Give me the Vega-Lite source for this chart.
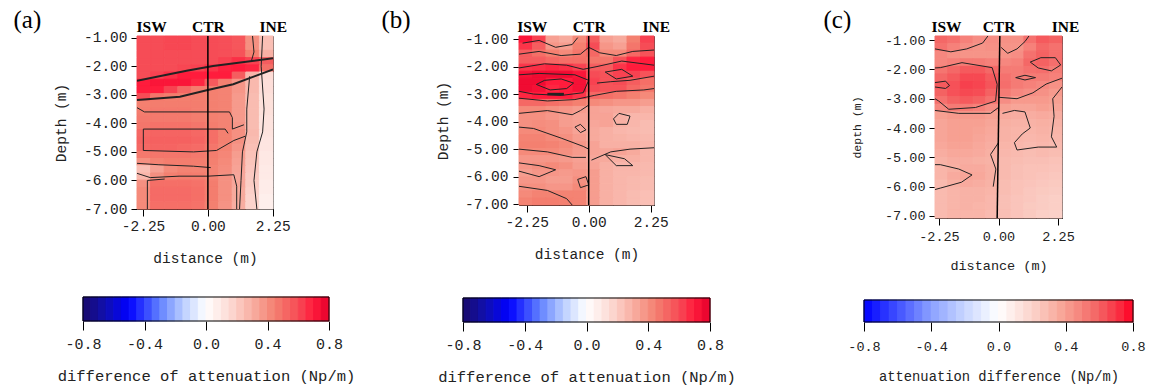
{
"$schema":"https://vega.github.io/schema/vega-lite/v6.json",
"background":"white",
"padding":{"left":12,"top":7,"right":5,"bottom":5},
"datasets":{
"cb":[{"a":-0.8,"b":-0.75,"m":-0.775},{"a":-0.75,"b":-0.7,"m":-0.725},{"a":-0.7,"b":-0.65,"m":-0.675},{"a":-0.65,"b":-0.6,"m":-0.625},{"a":-0.6,"b":-0.55,"m":-0.575},{"a":-0.55,"b":-0.5,"m":-0.525},{"a":-0.5,"b":-0.45,"m":-0.475},{"a":-0.45,"b":-0.4,"m":-0.425},{"a":-0.4,"b":-0.35,"m":-0.375},{"a":-0.35,"b":-0.3,"m":-0.325},{"a":-0.3,"b":-0.25,"m":-0.275},{"a":-0.25,"b":-0.2,"m":-0.225},{"a":-0.2,"b":-0.15,"m":-0.175},{"a":-0.15,"b":-0.1,"m":-0.125},{"a":-0.1,"b":-0.05,"m":-0.075},{"a":-0.05,"b":0,"m":-0.025},{"a":0,"b":0.05,"m":0.025},{"a":0.05,"b":0.1,"m":0.075},{"a":0.1,"b":0.15,"m":0.125},{"a":0.15,"b":0.2,"m":0.175},{"a":0.2,"b":0.25,"m":0.225},{"a":0.25,"b":0.3,"m":0.275},{"a":0.3,"b":0.35,"m":0.325},{"a":0.35,"b":0.4,"m":0.375},{"a":0.4,"b":0.45,"m":0.425},{"a":0.45,"b":0.5,"m":0.475},{"a":0.5,"b":0.55,"m":0.525},{"a":0.55,"b":0.6,"m":0.575},{"a":0.6,"b":0.65,"m":0.625},{"a":0.65,"b":0.7,"m":0.675},{"a":0.7,"b":0.75,"m":0.725},{"a":0.75,"b":0.8,"m":0.775}],
"ka":[
{"c":1,"k":0,"x":-2.46,"y":-2.51,"w":2},{"c":1,"k":1,"x":-0.74,"y":-2.16,"w":2},{"c":1,"k":2,"x":0.18,"y":-1.99,"w":2},{"c":1,"k":3,"x":2.26,"y":-1.72,"w":2},
{"c":2,"k":0,"x":-2.46,"y":-3.18,"w":2},{"c":2,"k":1,"x":-0.97,"y":-3.07,"w":2},{"c":2,"k":2,"x":-0.04,"y":-2.84,"w":2},{"c":2,"k":3,"x":0.88,"y":-2.63,"w":2},{"c":2,"k":4,"x":2.26,"y":-2.11,"w":2},
{"c":3,"k":0,"x":-2.46,"y":-3.45,"w":1},{"c":3,"k":1,"x":-2.2,"y":-3.6,"w":1},{"c":3,"k":2,"x":0.75,"y":-3.6,"w":1},{"c":3,"k":3,"x":0.85,"y":-3.8,"w":1},{"c":3,"k":4,"x":0.85,"y":-4.2,"w":1},{"c":3,"k":5,"x":1.25,"y":-4.05,"w":1},
{"c":4,"k":0,"x":-2.24,"y":-4.95,"w":1},{"c":4,"k":1,"x":-2.24,"y":-4.2,"w":1},{"c":4,"k":2,"x":0.6,"y":-4.2,"w":1},{"c":4,"k":3,"x":0.7,"y":-4.35,"w":1},
{"c":5,"k":0,"x":-2.24,"y":-4.95,"w":1},{"c":5,"k":1,"x":-0.5,"y":-5.0,"w":1},{"c":5,"k":2,"x":0.3,"y":-4.95,"w":1},{"c":5,"k":3,"x":0.9,"y":-4.6,"w":1},{"c":5,"k":4,"x":1.3,"y":-4.45,"w":1},
{"c":6,"k":0,"x":-2.46,"y":-5.4,"w":1},{"c":6,"k":1,"x":-1.7,"y":-5.45,"w":1},{"c":6,"k":2,"x":-0.5,"y":-5.5,"w":1},{"c":6,"k":3,"x":0.1,"y":-5.55,"w":1},
{"c":7,"k":0,"x":-2.46,"y":-5.75,"w":1},{"c":7,"k":1,"x":-2.0,"y":-5.9,"w":1},{"c":7,"k":2,"x":-1.0,"y":-5.85,"w":1},{"c":7,"k":3,"x":0,"y":-5.85,"w":1},{"c":7,"k":4,"x":0.9,"y":-5.8,"w":1},{"c":7,"k":5,"x":1.0,"y":-6.2,"w":1},{"c":7,"k":6,"x":1.0,"y":-7.0,"w":1},
{"c":8,"k":0,"x":1.45,"y":-2.35,"w":1},{"c":8,"k":1,"x":1.35,"y":-3.5,"w":1},{"c":8,"k":2,"x":1.35,"y":-4.3,"w":1},{"c":8,"k":3,"x":1.2,"y":-5.0,"w":1},{"c":8,"k":4,"x":1.15,"y":-6.0,"w":1},{"c":8,"k":5,"x":1.1,"y":-7.0,"w":1},
{"c":9,"k":0,"x":1.9,"y":-0.94,"w":1},{"c":9,"k":1,"x":1.85,"y":-2.0,"w":1},{"c":9,"k":2,"x":1.95,"y":-3.5,"w":1},{"c":9,"k":3,"x":1.9,"y":-4.3,"w":1},{"c":9,"k":4,"x":1.7,"y":-5.0,"w":1},{"c":9,"k":5,"x":1.6,"y":-6.0,"w":1},{"c":9,"k":6,"x":1.7,"y":-7.0,"w":1},
{"c":10,"k":0,"x":1.55,"y":-0.94,"w":1},{"c":10,"k":1,"x":1.6,"y":-1.5,"w":1},{"c":10,"k":2,"x":1.5,"y":-1.85,"w":1},
{"c":11,"k":0,"x":-2.1,"y":-7.0,"w":1},{"c":11,"k":1,"x":-2.1,"y":-6.0,"w":1},{"c":11,"k":2,"x":-1.5,"y":-5.95,"w":1}
],
"kb":[
{"c":1,"k":0,"x":-2.4,"y":-1.15,"w":1},{"c":1,"k":1,"x":-1.8,"y":-1.05,"w":1},{"c":1,"k":2,"x":-1.2,"y":-1.3,"w":1},{"c":1,"k":3,"x":-0.6,"y":-1.2,"w":1},{"c":1,"k":4,"x":-0.4,"y":-0.95,"w":1},
{"c":2,"k":0,"x":-2.53,"y":-1.55,"w":1},{"c":2,"k":1,"x":-1.8,"y":-1.45,"w":1},{"c":2,"k":2,"x":-1.0,"y":-1.6,"w":1},{"c":2,"k":3,"x":-0.3,"y":-1.55,"w":1},{"c":2,"k":4,"x":0,"y":-1.3,"w":1},{"c":2,"k":5,"x":0.4,"y":-1.5,"w":1},{"c":2,"k":6,"x":1.0,"y":-1.6,"w":1},{"c":2,"k":7,"x":1.6,"y":-1.45,"w":1},{"c":2,"k":8,"x":2.37,"y":-1.4,"w":1},
{"c":3,"k":0,"x":-2.53,"y":-2.05,"w":1},{"c":3,"k":1,"x":-1.6,"y":-1.9,"w":1},{"c":3,"k":2,"x":-0.8,"y":-1.95,"w":1},{"c":3,"k":3,"x":-0.2,"y":-2.1,"w":1},{"c":3,"k":4,"x":0.3,"y":-2.0,"w":1},{"c":3,"k":5,"x":1.2,"y":-1.8,"w":1},{"c":3,"k":6,"x":2.37,"y":-1.95,"w":1},
{"c":4,"k":0,"x":-2.53,"y":-2.3,"w":1},{"c":4,"k":1,"x":-1.8,"y":-2.25,"w":1},{"c":4,"k":2,"x":-0.5,"y":-2.3,"w":1},{"c":4,"k":3,"x":0,"y":-2.5,"w":1},{"c":4,"k":4,"x":-0.2,"y":-2.95,"w":1},{"c":4,"k":5,"x":-1.0,"y":-3.05,"w":1},{"c":4,"k":6,"x":-2.0,"y":-3.0,"w":1},{"c":4,"k":7,"x":-2.53,"y":-2.9,"w":1},
{"c":5,"k":0,"x":-1.9,"y":-2.65,"w":1},{"c":5,"k":1,"x":-1.6,"y":-2.5,"w":1},{"c":5,"k":2,"x":-1.0,"y":-2.45,"w":1},{"c":5,"k":3,"x":-0.55,"y":-2.6,"w":1},{"c":5,"k":4,"x":-0.8,"y":-2.8,"w":1},{"c":5,"k":5,"x":-1.4,"y":-2.85,"w":1},{"c":5,"k":6,"x":-1.9,"y":-2.65,"w":1},
{"c":6,"k":0,"x":-1.5,"y":-3.0,"w":2.5},{"c":6,"k":1,"x":-0.9,"y":-3.0,"w":2.5},
{"c":7,"k":0,"x":-2.53,"y":-3.15,"w":1},{"c":7,"k":1,"x":-1.5,"y":-3.25,"w":1},{"c":7,"k":2,"x":-0.5,"y":-3.2,"w":1},{"c":7,"k":3,"x":0.2,"y":-3.05,"w":1},{"c":7,"k":4,"x":1.0,"y":-2.9,"w":1},{"c":7,"k":5,"x":2.0,"y":-2.85,"w":1},{"c":7,"k":6,"x":2.37,"y":-2.8,"w":1},
{"c":8,"k":0,"x":0.6,"y":-2.2,"w":1},{"c":8,"k":1,"x":1.2,"y":-2.1,"w":1},{"c":8,"k":2,"x":1.6,"y":-2.35,"w":1},{"c":8,"k":3,"x":1.0,"y":-2.45,"w":1},{"c":8,"k":4,"x":0.6,"y":-2.2,"w":1},
{"c":9,"k":0,"x":0.3,"y":-2.6,"w":1},{"c":9,"k":1,"x":0.8,"y":-2.55,"w":1},{"c":9,"k":2,"x":1.5,"y":-2.5,"w":1},{"c":9,"k":3,"x":2.37,"y":-2.35,"w":1},
{"c":10,"k":0,"x":-2.53,"y":-3.7,"w":1},{"c":10,"k":1,"x":-1.5,"y":-3.6,"w":1},{"c":10,"k":2,"x":-0.6,"y":-3.75,"w":1},{"c":10,"k":3,"x":-0.3,"y":-3.6,"w":1},{"c":10,"k":4,"x":0,"y":-3.4,"w":1},
{"c":11,"k":0,"x":0.9,"y":-3.9,"w":1},{"c":11,"k":1,"x":1.1,"y":-3.7,"w":1},{"c":11,"k":2,"x":1.5,"y":-3.8,"w":1},{"c":11,"k":3,"x":1.4,"y":-4.1,"w":1},{"c":11,"k":4,"x":1.0,"y":-4.1,"w":1},{"c":11,"k":5,"x":0.9,"y":-3.9,"w":1},
{"c":12,"k":0,"x":-0.5,"y":-4.2,"w":1},{"c":12,"k":1,"x":-0.3,"y":-4.1,"w":1},{"c":12,"k":2,"x":-0.1,"y":-4.3,"w":1},{"c":12,"k":3,"x":-0.3,"y":-4.4,"w":1},{"c":12,"k":4,"x":-0.5,"y":-4.2,"w":1},
{"c":13,"k":0,"x":-2.53,"y":-4.2,"w":1},{"c":13,"k":1,"x":-2.0,"y":-4.25,"w":1},{"c":13,"k":2,"x":-1.0,"y":-4.6,"w":1},{"c":13,"k":3,"x":-0.2,"y":-4.9,"w":1},{"c":13,"k":4,"x":0,"y":-5.0,"w":1},
{"c":14,"k":0,"x":-2.53,"y":-5.0,"w":1},{"c":14,"k":1,"x":-1.5,"y":-5.1,"w":1},{"c":14,"k":2,"x":-0.6,"y":-5.3,"w":1},{"c":14,"k":3,"x":-0.1,"y":-5.3,"w":1},
{"c":15,"k":0,"x":0.1,"y":-5.4,"w":1},{"c":15,"k":1,"x":0.8,"y":-5.1,"w":1},{"c":15,"k":2,"x":1.5,"y":-5.0,"w":1},{"c":15,"k":3,"x":2.37,"y":-4.95,"w":1},
{"c":16,"k":0,"x":0.6,"y":-5.2,"w":1},{"c":16,"k":1,"x":1.3,"y":-5.35,"w":1},{"c":16,"k":2,"x":1.6,"y":-5.6,"w":1},{"c":16,"k":3,"x":1.0,"y":-5.6,"w":1},{"c":16,"k":4,"x":0.6,"y":-5.2,"w":1},
{"c":17,"k":0,"x":-2.53,"y":-5.5,"w":1},{"c":17,"k":1,"x":-1.8,"y":-5.6,"w":1},{"c":17,"k":2,"x":-1.2,"y":-5.75,"w":1},{"c":17,"k":3,"x":-1.8,"y":-6.0,"w":1},{"c":17,"k":4,"x":-2.53,"y":-5.8,"w":1},
{"c":18,"k":0,"x":-2.53,"y":-6.35,"w":1},{"c":18,"k":1,"x":-1.5,"y":-6.5,"w":1},{"c":18,"k":2,"x":-0.8,"y":-6.8,"w":1},{"c":18,"k":3,"x":-0.6,"y":-7.03,"w":1},
{"c":19,"k":0,"x":-0.4,"y":-6.1,"w":1},{"c":19,"k":1,"x":-0.1,"y":-6.0,"w":1},{"c":19,"k":2,"x":0,"y":-6.3,"w":1},{"c":19,"k":3,"x":-0.3,"y":-6.4,"w":1},{"c":19,"k":4,"x":-0.4,"y":-6.1,"w":1}
],
"kc":[
{"c":1,"k":0,"x":-2.4,"y":-1.95,"w":1},{"c":1,"k":1,"x":-2.2,"y":-1.94,"w":1},{"c":1,"k":2,"x":-1.38,"y":-1.77,"w":1},{"c":1,"k":3,"x":-0.24,"y":-1.94,"w":1},{"c":1,"k":4,"x":-0.05,"y":-2.51,"w":1},{"c":1,"k":5,"x":-0.11,"y":-3.08,"w":1},{"c":1,"k":6,"x":-0.87,"y":-3.3,"w":1},{"c":1,"k":7,"x":-1.88,"y":-3.36,"w":1},{"c":1,"k":8,"x":-2.26,"y":-3.08,"w":1},{"c":1,"k":9,"x":-2.4,"y":-3.0,"w":1},
{"c":2,"k":0,"x":-2.4,"y":-3.4,"w":1},{"c":2,"k":1,"x":-1.5,"y":-3.5,"w":1},{"c":2,"k":2,"x":-0.3,"y":-3.5,"w":1},{"c":2,"k":3,"x":0,"y":-3.3,"w":1},
{"c":3,"k":0,"x":-2.4,"y":-2.45,"w":1},{"c":3,"k":1,"x":-2.0,"y":-2.4,"w":1},{"c":3,"k":2,"x":-1.85,"y":-2.55,"w":1},{"c":3,"k":3,"x":-2.0,"y":-2.65,"w":1},{"c":3,"k":4,"x":-2.4,"y":-2.6,"w":1},
{"c":4,"k":0,"x":-2.4,"y":-1.3,"w":1},{"c":4,"k":1,"x":-1.8,"y":-1.4,"w":1},{"c":4,"k":2,"x":-1.2,"y":-1.3,"w":1},{"c":4,"k":3,"x":-0.6,"y":-1.1,"w":1},{"c":4,"k":4,"x":-0.4,"y":-0.86,"w":1},
{"c":5,"k":0,"x":1.2,"y":-1.75,"w":1},{"c":5,"k":1,"x":1.6,"y":-1.6,"w":1},{"c":5,"k":2,"x":2.15,"y":-1.6,"w":1},{"c":5,"k":3,"x":2.35,"y":-1.85,"w":1},{"c":5,"k":4,"x":2.0,"y":-2.05,"w":1},{"c":5,"k":5,"x":1.5,"y":-1.95,"w":1},{"c":5,"k":6,"x":1.2,"y":-1.75,"w":1},
{"c":6,"k":0,"x":0.65,"y":-2.28,"w":1},{"c":6,"k":1,"x":1.0,"y":-2.2,"w":1},{"c":6,"k":2,"x":1.4,"y":-2.28,"w":1},{"c":6,"k":3,"x":1.0,"y":-2.36,"w":1},{"c":6,"k":4,"x":0.65,"y":-2.28,"w":1},
{"c":7,"k":0,"x":0,"y":-2.95,"w":1},{"c":7,"k":1,"x":0.7,"y":-3.0,"w":1},{"c":7,"k":2,"x":1.3,"y":-2.8,"w":1},{"c":7,"k":3,"x":1.8,"y":-2.5,"w":1},{"c":7,"k":4,"x":2.4,"y":-2.3,"w":1},
{"c":8,"k":0,"x":0.15,"y":-3.5,"w":1},{"c":8,"k":1,"x":0.6,"y":-3.4,"w":1},{"c":8,"k":2,"x":1.0,"y":-3.45,"w":1},{"c":8,"k":3,"x":1.2,"y":-4.0,"w":1},{"c":8,"k":4,"x":0.9,"y":-4.2,"w":1},{"c":8,"k":5,"x":0.6,"y":-4.5,"w":1},{"c":8,"k":6,"x":0.7,"y":-4.75,"w":1},{"c":8,"k":7,"x":1.5,"y":-4.65,"w":1},{"c":8,"k":8,"x":2.2,"y":-4.65,"w":1},{"c":8,"k":9,"x":2.0,"y":-4.3,"w":1},{"c":8,"k":10,"x":2.1,"y":-3.6,"w":1},{"c":8,"k":11,"x":2.05,"y":-3.0,"w":1},{"c":8,"k":12,"x":2.4,"y":-2.6,"w":1},
{"c":9,"k":0,"x":-2.4,"y":-5.25,"w":1},{"c":9,"k":1,"x":-2.2,"y":-5.25,"w":1},{"c":9,"k":2,"x":-1.5,"y":-5.4,"w":1},{"c":9,"k":3,"x":-1.0,"y":-5.6,"w":1},{"c":9,"k":4,"x":-1.4,"y":-5.85,"w":1},{"c":9,"k":5,"x":-2.2,"y":-6.05,"w":1},{"c":9,"k":6,"x":-2.4,"y":-6.1,"w":1},
{"c":10,"k":0,"x":0,"y":-4.5,"w":1},{"c":10,"k":1,"x":-0.3,"y":-4.9,"w":1},{"c":10,"k":2,"x":-0.1,"y":-5.4,"w":1},{"c":10,"k":3,"x":-0.2,"y":-6.0,"w":1},
{"c":11,"k":0,"x":0.1,"y":-1.25,"w":1},{"c":11,"k":1,"x":0.35,"y":-1.45,"w":1},{"c":11,"k":2,"x":0.7,"y":-1.3,"w":1},{"c":11,"k":3,"x":1.0,"y":-1.05,"w":1},{"c":11,"k":4,"x":1.15,"y":-0.86,"w":1}
],
"ha":[
{"i":0,"j":0,"v":0.6},{"i":1,"j":0,"v":0.6},{"i":2,"j":0,"v":0.61},{"i":3,"j":0,"v":0.61},{"i":4,"j":0,"v":0.6},{"i":5,"j":0,"v":0.6},{"i":6,"j":0,"v":0.59},{"i":7,"j":0,"v":0.57},{"i":8,"j":0,"v":0.4},{"i":9,"j":0,"v":0.25},
{"i":0,"j":1,"v":0.6},{"i":1,"j":1,"v":0.6},{"i":2,"j":1,"v":0.61},{"i":3,"j":1,"v":0.61},{"i":4,"j":1,"v":0.6},{"i":5,"j":1,"v":0.6},{"i":6,"j":1,"v":0.59},{"i":7,"j":1,"v":0.57},{"i":8,"j":1,"v":0.4},{"i":9,"j":1,"v":0.25},
{"i":0,"j":2,"v":0.6},{"i":1,"j":2,"v":0.6},{"i":2,"j":2,"v":0.6},{"i":3,"j":2,"v":0.6},{"i":4,"j":2,"v":0.6},{"i":5,"j":2,"v":0.6},{"i":6,"j":2,"v":0.59},{"i":7,"j":2,"v":0.58},{"i":8,"j":2,"v":0.45},{"i":9,"j":2,"v":0.3},
{"i":0,"j":3,"v":0.6},{"i":1,"j":3,"v":0.6},{"i":2,"j":3,"v":0.6},{"i":3,"j":3,"v":0.6},{"i":4,"j":3,"v":0.6},{"i":5,"j":3,"v":0.6},{"i":6,"j":3,"v":0.62},{"i":7,"j":3,"v":0.66},{"i":8,"j":3,"v":0.62},{"i":9,"j":3,"v":0.55},
{"i":0,"j":4,"v":0.6},{"i":1,"j":4,"v":0.6},{"i":2,"j":4,"v":0.6},{"i":3,"j":4,"v":0.61},{"i":4,"j":4,"v":0.62},{"i":5,"j":4,"v":0.65},{"i":6,"j":4,"v":0.69},{"i":7,"j":4,"v":0.7},{"i":8,"j":4,"v":0.68},{"i":9,"j":4,"v":0.5},
{"i":0,"j":5,"v":0.6},{"i":1,"j":5,"v":0.62},{"i":2,"j":5,"v":0.66},{"i":3,"j":5,"v":0.7},{"i":4,"j":5,"v":0.7},{"i":5,"j":5,"v":0.7},{"i":6,"j":5,"v":0.7},{"i":7,"j":5,"v":0.55},{"i":8,"j":5,"v":0.28},{"i":9,"j":5,"v":0.15},
{"i":0,"j":6,"v":0.7},{"i":1,"j":6,"v":0.72},{"i":2,"j":6,"v":0.72},{"i":3,"j":6,"v":0.72},{"i":4,"j":6,"v":0.68},{"i":5,"j":6,"v":0.56},{"i":6,"j":6,"v":0.45},{"i":7,"j":6,"v":0.38},{"i":8,"j":6,"v":0.27},{"i":9,"j":6,"v":0.14},
{"i":0,"j":7,"v":0.7},{"i":1,"j":7,"v":0.7},{"i":2,"j":7,"v":0.62},{"i":3,"j":7,"v":0.52},{"i":4,"j":7,"v":0.46},{"i":5,"j":7,"v":0.45},{"i":6,"j":7,"v":0.44},{"i":7,"j":7,"v":0.38},{"i":8,"j":7,"v":0.27},{"i":9,"j":7,"v":0.14},
{"i":0,"j":8,"v":0.6},{"i":1,"j":8,"v":0.48},{"i":2,"j":8,"v":0.46},{"i":3,"j":8,"v":0.46},{"i":4,"j":8,"v":0.46},{"i":5,"j":8,"v":0.45},{"i":6,"j":8,"v":0.44},{"i":7,"j":8,"v":0.37},{"i":8,"j":8,"v":0.26},{"i":9,"j":8,"v":0.13},
{"i":0,"j":9,"v":0.45},{"i":1,"j":9,"v":0.46},{"i":2,"j":9,"v":0.46},{"i":3,"j":9,"v":0.46},{"i":4,"j":9,"v":0.46},{"i":5,"j":9,"v":0.45},{"i":6,"j":9,"v":0.44},{"i":7,"j":9,"v":0.37},{"i":8,"j":9,"v":0.26},{"i":9,"j":9,"v":0.13},
{"i":0,"j":10,"v":0.46},{"i":1,"j":10,"v":0.47},{"i":2,"j":10,"v":0.47},{"i":3,"j":10,"v":0.47},{"i":4,"j":10,"v":0.46},{"i":5,"j":10,"v":0.45},{"i":6,"j":10,"v":0.44},{"i":7,"j":10,"v":0.37},{"i":8,"j":10,"v":0.26},{"i":9,"j":10,"v":0.13},
{"i":0,"j":11,"v":0.47},{"i":1,"j":11,"v":0.47},{"i":2,"j":11,"v":0.47},{"i":3,"j":11,"v":0.47},{"i":4,"j":11,"v":0.46},{"i":5,"j":11,"v":0.45},{"i":6,"j":11,"v":0.44},{"i":7,"j":11,"v":0.37},{"i":8,"j":11,"v":0.26},{"i":9,"j":11,"v":0.12},
{"i":0,"j":12,"v":0.48},{"i":1,"j":12,"v":0.49},{"i":2,"j":12,"v":0.49},{"i":3,"j":12,"v":0.49},{"i":4,"j":12,"v":0.48},{"i":5,"j":12,"v":0.46},{"i":6,"j":12,"v":0.44},{"i":7,"j":12,"v":0.38},{"i":8,"j":12,"v":0.26},{"i":9,"j":12,"v":0.12},
{"i":0,"j":13,"v":0.52},{"i":1,"j":13,"v":0.53},{"i":2,"j":13,"v":0.53},{"i":3,"j":13,"v":0.53},{"i":4,"j":13,"v":0.52},{"i":5,"j":13,"v":0.5},{"i":6,"j":13,"v":0.45},{"i":7,"j":13,"v":0.4},{"i":8,"j":13,"v":0.27},{"i":9,"j":13,"v":0.12},
{"i":0,"j":14,"v":0.53},{"i":1,"j":14,"v":0.54},{"i":2,"j":14,"v":0.54},{"i":3,"j":14,"v":0.54},{"i":4,"j":14,"v":0.53},{"i":5,"j":14,"v":0.5},{"i":6,"j":14,"v":0.45},{"i":7,"j":14,"v":0.4},{"i":8,"j":14,"v":0.26},{"i":9,"j":14,"v":0.11},
{"i":0,"j":15,"v":0.52},{"i":1,"j":15,"v":0.53},{"i":2,"j":15,"v":0.53},{"i":3,"j":15,"v":0.52},{"i":4,"j":15,"v":0.51},{"i":5,"j":15,"v":0.48},{"i":6,"j":15,"v":0.44},{"i":7,"j":15,"v":0.38},{"i":8,"j":15,"v":0.25},{"i":9,"j":15,"v":0.11},
{"i":0,"j":16,"v":0.47},{"i":1,"j":16,"v":0.48},{"i":2,"j":16,"v":0.48},{"i":3,"j":16,"v":0.48},{"i":4,"j":16,"v":0.47},{"i":5,"j":16,"v":0.46},{"i":6,"j":16,"v":0.43},{"i":7,"j":16,"v":0.36},{"i":8,"j":16,"v":0.24},{"i":9,"j":16,"v":0.1},
{"i":0,"j":17,"v":0.4},{"i":1,"j":17,"v":0.44},{"i":2,"j":17,"v":0.46},{"i":3,"j":17,"v":0.46},{"i":4,"j":17,"v":0.46},{"i":5,"j":17,"v":0.45},{"i":6,"j":17,"v":0.42},{"i":7,"j":17,"v":0.35},{"i":8,"j":17,"v":0.23},{"i":9,"j":17,"v":0.1},
{"i":0,"j":18,"v":0.25},{"i":1,"j":18,"v":0.35},{"i":2,"j":18,"v":0.42},{"i":3,"j":18,"v":0.44},{"i":4,"j":18,"v":0.44},{"i":5,"j":18,"v":0.44},{"i":6,"j":18,"v":0.41},{"i":7,"j":18,"v":0.34},{"i":8,"j":18,"v":0.22},{"i":9,"j":18,"v":0.09},
{"i":0,"j":19,"v":0.28},{"i":1,"j":19,"v":0.4},{"i":2,"j":19,"v":0.45},{"i":3,"j":19,"v":0.46},{"i":4,"j":19,"v":0.46},{"i":5,"j":19,"v":0.44},{"i":6,"j":19,"v":0.4},{"i":7,"j":19,"v":0.33},{"i":8,"j":19,"v":0.21},{"i":9,"j":19,"v":0.09},
{"i":0,"j":20,"v":0.4},{"i":1,"j":20,"v":0.5},{"i":2,"j":20,"v":0.5},{"i":3,"j":20,"v":0.5},{"i":4,"j":20,"v":0.49},{"i":5,"j":20,"v":0.46},{"i":6,"j":20,"v":0.4},{"i":7,"j":20,"v":0.33},{"i":8,"j":20,"v":0.2},{"i":9,"j":20,"v":0.08},
{"i":0,"j":21,"v":0.42},{"i":1,"j":21,"v":0.51},{"i":2,"j":21,"v":0.51},{"i":3,"j":21,"v":0.51},{"i":4,"j":21,"v":0.5},{"i":5,"j":21,"v":0.46},{"i":6,"j":21,"v":0.4},{"i":7,"j":21,"v":0.32},{"i":8,"j":21,"v":0.19},{"i":9,"j":21,"v":0.08},
{"i":0,"j":22,"v":0.42},{"i":1,"j":22,"v":0.51},{"i":2,"j":22,"v":0.51},{"i":3,"j":22,"v":0.51},{"i":4,"j":22,"v":0.5},{"i":5,"j":22,"v":0.46},{"i":6,"j":22,"v":0.4},{"i":7,"j":22,"v":0.32},{"i":8,"j":22,"v":0.18},{"i":9,"j":22,"v":0.07},
{"i":0,"j":23,"v":0.42},{"i":1,"j":23,"v":0.5},{"i":2,"j":23,"v":0.5},{"i":3,"j":23,"v":0.5},{"i":4,"j":23,"v":0.49},{"i":5,"j":23,"v":0.45},{"i":6,"j":23,"v":0.39},{"i":7,"j":23,"v":0.31},{"i":8,"j":23,"v":0.18},{"i":9,"j":23,"v":0.07}
],
"hb":[
{"i":0,"j":0,"v":0.72},{"i":1,"j":0,"v":0.62},{"i":2,"j":0,"v":0.35},{"i":3,"j":0,"v":0.32},{"i":4,"j":0,"v":0.42},{"i":5,"j":0,"v":0.55},{"i":6,"j":0,"v":0.35},{"i":7,"j":0,"v":0.32},{"i":8,"j":0,"v":0.45},{"i":9,"j":0,"v":0.62},
{"i":0,"j":1,"v":0.65},{"i":1,"j":1,"v":0.55},{"i":2,"j":1,"v":0.38},{"i":3,"j":1,"v":0.36},{"i":4,"j":1,"v":0.45},{"i":5,"j":1,"v":0.6},{"i":6,"j":1,"v":0.38},{"i":7,"j":1,"v":0.35},{"i":8,"j":1,"v":0.48},{"i":9,"j":1,"v":0.6},
{"i":0,"j":2,"v":0.55},{"i":1,"j":2,"v":0.5},{"i":2,"j":2,"v":0.45},{"i":3,"j":2,"v":0.42},{"i":4,"j":2,"v":0.48},{"i":5,"j":2,"v":0.52},{"i":6,"j":2,"v":0.42},{"i":7,"j":2,"v":0.42},{"i":8,"j":2,"v":0.52},{"i":9,"j":2,"v":0.58},
{"i":0,"j":3,"v":0.55},{"i":1,"j":3,"v":0.55},{"i":2,"j":3,"v":0.52},{"i":3,"j":3,"v":0.5},{"i":4,"j":3,"v":0.5},{"i":5,"j":3,"v":0.48},{"i":6,"j":3,"v":0.48},{"i":7,"j":3,"v":0.58},{"i":8,"j":3,"v":0.68},{"i":9,"j":3,"v":0.7},
{"i":0,"j":4,"v":0.65},{"i":1,"j":4,"v":0.66},{"i":2,"j":4,"v":0.68},{"i":3,"j":4,"v":0.66},{"i":4,"j":4,"v":0.62},{"i":5,"j":4,"v":0.55},{"i":6,"j":4,"v":0.55},{"i":7,"j":4,"v":0.65},{"i":8,"j":4,"v":0.7},{"i":9,"j":4,"v":0.7},
{"i":0,"j":5,"v":0.74},{"i":1,"j":5,"v":0.76},{"i":2,"j":5,"v":0.76},{"i":3,"j":5,"v":0.76},{"i":4,"j":5,"v":0.72},{"i":5,"j":5,"v":0.6},{"i":6,"j":5,"v":0.58},{"i":7,"j":5,"v":0.62},{"i":8,"j":5,"v":0.62},{"i":9,"j":5,"v":0.58},
{"i":0,"j":6,"v":0.76},{"i":1,"j":6,"v":0.76},{"i":2,"j":6,"v":0.7},{"i":3,"j":6,"v":0.7},{"i":4,"j":6,"v":0.74},{"i":5,"j":6,"v":0.62},{"i":6,"j":6,"v":0.58},{"i":7,"j":6,"v":0.6},{"i":8,"j":6,"v":0.55},{"i":9,"j":6,"v":0.5},
{"i":0,"j":7,"v":0.76},{"i":1,"j":7,"v":0.74},{"i":2,"j":7,"v":0.68},{"i":3,"j":7,"v":0.7},{"i":4,"j":7,"v":0.74},{"i":5,"j":7,"v":0.6},{"i":6,"j":7,"v":0.58},{"i":7,"j":7,"v":0.58},{"i":8,"j":7,"v":0.52},{"i":9,"j":7,"v":0.48},
{"i":0,"j":8,"v":0.68},{"i":1,"j":8,"v":0.7},{"i":2,"j":8,"v":0.7},{"i":3,"j":8,"v":0.7},{"i":4,"j":8,"v":0.65},{"i":5,"j":8,"v":0.52},{"i":6,"j":8,"v":0.5},{"i":7,"j":8,"v":0.48},{"i":8,"j":8,"v":0.45},{"i":9,"j":8,"v":0.42},
{"i":0,"j":9,"v":0.52},{"i":1,"j":9,"v":0.52},{"i":2,"j":9,"v":0.5},{"i":3,"j":9,"v":0.48},{"i":4,"j":9,"v":0.45},{"i":5,"j":9,"v":0.42},{"i":6,"j":9,"v":0.4},{"i":7,"j":9,"v":0.38},{"i":8,"j":9,"v":0.38},{"i":9,"j":9,"v":0.36},
{"i":0,"j":10,"v":0.42},{"i":1,"j":10,"v":0.42},{"i":2,"j":10,"v":0.4},{"i":3,"j":10,"v":0.38},{"i":4,"j":10,"v":0.36},{"i":5,"j":10,"v":0.34},{"i":6,"j":10,"v":0.33},{"i":7,"j":10,"v":0.32},{"i":8,"j":10,"v":0.32},{"i":9,"j":10,"v":0.3},
{"i":0,"j":11,"v":0.4},{"i":1,"j":11,"v":0.4},{"i":2,"j":11,"v":0.38},{"i":3,"j":11,"v":0.36},{"i":4,"j":11,"v":0.34},{"i":5,"j":11,"v":0.34},{"i":6,"j":11,"v":0.34},{"i":7,"j":11,"v":0.3},{"i":8,"j":11,"v":0.28},{"i":9,"j":11,"v":0.28},
{"i":0,"j":12,"v":0.4},{"i":1,"j":12,"v":0.41},{"i":2,"j":12,"v":0.4},{"i":3,"j":12,"v":0.36},{"i":4,"j":12,"v":0.35},{"i":5,"j":12,"v":0.33},{"i":6,"j":12,"v":0.34},{"i":7,"j":12,"v":0.3},{"i":8,"j":12,"v":0.28},{"i":9,"j":12,"v":0.26},
{"i":0,"j":13,"v":0.42},{"i":1,"j":13,"v":0.42},{"i":2,"j":13,"v":0.4},{"i":3,"j":13,"v":0.38},{"i":4,"j":13,"v":0.34},{"i":5,"j":13,"v":0.32},{"i":6,"j":13,"v":0.3},{"i":7,"j":13,"v":0.28},{"i":8,"j":13,"v":0.27},{"i":9,"j":13,"v":0.26},
{"i":0,"j":14,"v":0.44},{"i":1,"j":14,"v":0.44},{"i":2,"j":14,"v":0.42},{"i":3,"j":14,"v":0.4},{"i":4,"j":14,"v":0.36},{"i":5,"j":14,"v":0.32},{"i":6,"j":14,"v":0.3},{"i":7,"j":14,"v":0.29},{"i":8,"j":14,"v":0.28},{"i":9,"j":14,"v":0.27},
{"i":0,"j":15,"v":0.45},{"i":1,"j":15,"v":0.45},{"i":2,"j":15,"v":0.44},{"i":3,"j":15,"v":0.42},{"i":4,"j":15,"v":0.38},{"i":5,"j":15,"v":0.34},{"i":6,"j":15,"v":0.3},{"i":7,"j":15,"v":0.3},{"i":8,"j":15,"v":0.3},{"i":9,"j":15,"v":0.28},
{"i":0,"j":16,"v":0.42},{"i":1,"j":16,"v":0.42},{"i":2,"j":16,"v":0.42},{"i":3,"j":16,"v":0.4},{"i":4,"j":16,"v":0.37},{"i":5,"j":16,"v":0.34},{"i":6,"j":16,"v":0.33},{"i":7,"j":16,"v":0.34},{"i":8,"j":16,"v":0.32},{"i":9,"j":16,"v":0.28},
{"i":0,"j":17,"v":0.38},{"i":1,"j":17,"v":0.38},{"i":2,"j":17,"v":0.38},{"i":3,"j":17,"v":0.37},{"i":4,"j":17,"v":0.35},{"i":5,"j":17,"v":0.33},{"i":6,"j":17,"v":0.32},{"i":7,"j":17,"v":0.3},{"i":8,"j":17,"v":0.3},{"i":9,"j":17,"v":0.28},
{"i":0,"j":18,"v":0.38},{"i":1,"j":18,"v":0.4},{"i":2,"j":18,"v":0.42},{"i":3,"j":18,"v":0.4},{"i":4,"j":18,"v":0.36},{"i":5,"j":18,"v":0.34},{"i":6,"j":18,"v":0.3},{"i":7,"j":18,"v":0.28},{"i":8,"j":18,"v":0.28},{"i":9,"j":18,"v":0.27},
{"i":0,"j":19,"v":0.36},{"i":1,"j":19,"v":0.38},{"i":2,"j":19,"v":0.38},{"i":3,"j":19,"v":0.37},{"i":4,"j":19,"v":0.38},{"i":5,"j":19,"v":0.36},{"i":6,"j":19,"v":0.3},{"i":7,"j":19,"v":0.28},{"i":8,"j":19,"v":0.28},{"i":9,"j":19,"v":0.27},
{"i":0,"j":20,"v":0.38},{"i":1,"j":20,"v":0.38},{"i":2,"j":20,"v":0.36},{"i":3,"j":20,"v":0.36},{"i":4,"j":20,"v":0.4},{"i":5,"j":20,"v":0.36},{"i":6,"j":20,"v":0.3},{"i":7,"j":20,"v":0.28},{"i":8,"j":20,"v":0.27},{"i":9,"j":20,"v":0.26},
{"i":0,"j":21,"v":0.4},{"i":1,"j":21,"v":0.4},{"i":2,"j":21,"v":0.38},{"i":3,"j":21,"v":0.38},{"i":4,"j":21,"v":0.42},{"i":5,"j":21,"v":0.36},{"i":6,"j":21,"v":0.3},{"i":7,"j":21,"v":0.28},{"i":8,"j":21,"v":0.27},{"i":9,"j":21,"v":0.26},
{"i":0,"j":22,"v":0.42},{"i":1,"j":22,"v":0.44},{"i":2,"j":22,"v":0.44},{"i":3,"j":22,"v":0.44},{"i":4,"j":22,"v":0.44},{"i":5,"j":22,"v":0.36},{"i":6,"j":22,"v":0.3},{"i":7,"j":22,"v":0.28},{"i":8,"j":22,"v":0.26},{"i":9,"j":22,"v":0.25},
{"i":0,"j":23,"v":0.44},{"i":1,"j":23,"v":0.46},{"i":2,"j":23,"v":0.46},{"i":3,"j":23,"v":0.45},{"i":4,"j":23,"v":0.44},{"i":5,"j":23,"v":0.36},{"i":6,"j":23,"v":0.3},{"i":7,"j":23,"v":0.28},{"i":8,"j":23,"v":0.26},{"i":9,"j":23,"v":0.25}
],
"hc":[
{"i":0,"j":0,"v":0.58},{"i":1,"j":0,"v":0.55},{"i":2,"j":0,"v":0.5},{"i":3,"j":0,"v":0.46},{"i":4,"j":0,"v":0.46},{"i":5,"j":0,"v":0.45},{"i":6,"j":0,"v":0.45},{"i":7,"j":0,"v":0.55},{"i":8,"j":0,"v":0.62},{"i":9,"j":0,"v":0.6},
{"i":0,"j":1,"v":0.55},{"i":1,"j":1,"v":0.5},{"i":2,"j":1,"v":0.46},{"i":3,"j":1,"v":0.44},{"i":4,"j":1,"v":0.45},{"i":5,"j":1,"v":0.44},{"i":6,"j":1,"v":0.44},{"i":7,"j":1,"v":0.5},{"i":8,"j":1,"v":0.58},{"i":9,"j":1,"v":0.55},
{"i":0,"j":2,"v":0.48},{"i":1,"j":2,"v":0.45},{"i":2,"j":2,"v":0.44},{"i":3,"j":2,"v":0.44},{"i":4,"j":2,"v":0.44},{"i":5,"j":2,"v":0.44},{"i":6,"j":2,"v":0.46},{"i":7,"j":2,"v":0.55},{"i":8,"j":2,"v":0.6},{"i":9,"j":2,"v":0.56},
{"i":0,"j":3,"v":0.48},{"i":1,"j":3,"v":0.5},{"i":2,"j":3,"v":0.52},{"i":3,"j":3,"v":0.52},{"i":4,"j":3,"v":0.5},{"i":5,"j":3,"v":0.48},{"i":6,"j":3,"v":0.5},{"i":7,"j":3,"v":0.58},{"i":8,"j":3,"v":0.6},{"i":9,"j":3,"v":0.56},
{"i":0,"j":4,"v":0.54},{"i":1,"j":4,"v":0.58},{"i":2,"j":4,"v":0.62},{"i":3,"j":4,"v":0.62},{"i":4,"j":4,"v":0.58},{"i":5,"j":4,"v":0.52},{"i":6,"j":4,"v":0.52},{"i":7,"j":4,"v":0.55},{"i":8,"j":4,"v":0.56},{"i":9,"j":4,"v":0.52},
{"i":0,"j":5,"v":0.58},{"i":1,"j":5,"v":0.62},{"i":2,"j":5,"v":0.66},{"i":3,"j":5,"v":0.66},{"i":4,"j":5,"v":0.62},{"i":5,"j":5,"v":0.55},{"i":6,"j":5,"v":0.52},{"i":7,"j":5,"v":0.52},{"i":8,"j":5,"v":0.52},{"i":9,"j":5,"v":0.5},
{"i":0,"j":6,"v":0.62},{"i":1,"j":6,"v":0.64},{"i":2,"j":6,"v":0.68},{"i":3,"j":6,"v":0.67},{"i":4,"j":6,"v":0.63},{"i":5,"j":6,"v":0.56},{"i":6,"j":6,"v":0.52},{"i":7,"j":6,"v":0.5},{"i":8,"j":6,"v":0.48},{"i":9,"j":6,"v":0.45},
{"i":0,"j":7,"v":0.6},{"i":1,"j":7,"v":0.64},{"i":2,"j":7,"v":0.66},{"i":3,"j":7,"v":0.65},{"i":4,"j":7,"v":0.6},{"i":5,"j":7,"v":0.52},{"i":6,"j":7,"v":0.48},{"i":7,"j":7,"v":0.46},{"i":8,"j":7,"v":0.45},{"i":9,"j":7,"v":0.42},
{"i":0,"j":8,"v":0.55},{"i":1,"j":8,"v":0.6},{"i":2,"j":8,"v":0.62},{"i":3,"j":8,"v":0.6},{"i":4,"j":8,"v":0.55},{"i":5,"j":8,"v":0.46},{"i":6,"j":8,"v":0.42},{"i":7,"j":8,"v":0.42},{"i":8,"j":8,"v":0.42},{"i":9,"j":8,"v":0.4},
{"i":0,"j":9,"v":0.48},{"i":1,"j":9,"v":0.52},{"i":2,"j":9,"v":0.52},{"i":3,"j":9,"v":0.5},{"i":4,"j":9,"v":0.46},{"i":5,"j":9,"v":0.4},{"i":6,"j":9,"v":0.38},{"i":7,"j":9,"v":0.38},{"i":8,"j":9,"v":0.4},{"i":9,"j":9,"v":0.38},
{"i":0,"j":10,"v":0.4},{"i":1,"j":10,"v":0.42},{"i":2,"j":10,"v":0.42},{"i":3,"j":10,"v":0.42},{"i":4,"j":10,"v":0.4},{"i":5,"j":10,"v":0.36},{"i":6,"j":10,"v":0.35},{"i":7,"j":10,"v":0.35},{"i":8,"j":10,"v":0.36},{"i":9,"j":10,"v":0.35},
{"i":0,"j":11,"v":0.38},{"i":1,"j":11,"v":0.4},{"i":2,"j":11,"v":0.4},{"i":3,"j":11,"v":0.4},{"i":4,"j":11,"v":0.38},{"i":5,"j":11,"v":0.34},{"i":6,"j":11,"v":0.33},{"i":7,"j":11,"v":0.33},{"i":8,"j":11,"v":0.34},{"i":9,"j":11,"v":0.33},
{"i":0,"j":12,"v":0.38},{"i":1,"j":12,"v":0.4},{"i":2,"j":12,"v":0.4},{"i":3,"j":12,"v":0.39},{"i":4,"j":12,"v":0.37},{"i":5,"j":12,"v":0.33},{"i":6,"j":12,"v":0.32},{"i":7,"j":12,"v":0.32},{"i":8,"j":12,"v":0.33},{"i":9,"j":12,"v":0.32},
{"i":0,"j":13,"v":0.38},{"i":1,"j":13,"v":0.4},{"i":2,"j":13,"v":0.4},{"i":3,"j":13,"v":0.38},{"i":4,"j":13,"v":0.36},{"i":5,"j":13,"v":0.33},{"i":6,"j":13,"v":0.32},{"i":7,"j":13,"v":0.31},{"i":8,"j":13,"v":0.32},{"i":9,"j":13,"v":0.31},
{"i":0,"j":14,"v":0.37},{"i":1,"j":14,"v":0.39},{"i":2,"j":14,"v":0.39},{"i":3,"j":14,"v":0.37},{"i":4,"j":14,"v":0.35},{"i":5,"j":14,"v":0.32},{"i":6,"j":14,"v":0.31},{"i":7,"j":14,"v":0.3},{"i":8,"j":14,"v":0.31},{"i":9,"j":14,"v":0.3},
{"i":0,"j":15,"v":0.35},{"i":1,"j":15,"v":0.37},{"i":2,"j":15,"v":0.37},{"i":3,"j":15,"v":0.36},{"i":4,"j":15,"v":0.34},{"i":5,"j":15,"v":0.31},{"i":6,"j":15,"v":0.3},{"i":7,"j":15,"v":0.29},{"i":8,"j":15,"v":0.3},{"i":9,"j":15,"v":0.29},
{"i":0,"j":16,"v":0.33},{"i":1,"j":16,"v":0.35},{"i":2,"j":16,"v":0.35},{"i":3,"j":16,"v":0.34},{"i":4,"j":16,"v":0.33},{"i":5,"j":16,"v":0.3},{"i":6,"j":16,"v":0.29},{"i":7,"j":16,"v":0.28},{"i":8,"j":16,"v":0.28},{"i":9,"j":16,"v":0.27},
{"i":0,"j":17,"v":0.32},{"i":1,"j":17,"v":0.34},{"i":2,"j":17,"v":0.36},{"i":3,"j":17,"v":0.36},{"i":4,"j":17,"v":0.34},{"i":5,"j":17,"v":0.3},{"i":6,"j":17,"v":0.28},{"i":7,"j":17,"v":0.27},{"i":8,"j":17,"v":0.27},{"i":9,"j":17,"v":0.26},
{"i":0,"j":18,"v":0.32},{"i":1,"j":18,"v":0.36},{"i":2,"j":18,"v":0.38},{"i":3,"j":18,"v":0.37},{"i":4,"j":18,"v":0.34},{"i":5,"j":18,"v":0.3},{"i":6,"j":18,"v":0.28},{"i":7,"j":18,"v":0.27},{"i":8,"j":18,"v":0.26},{"i":9,"j":18,"v":0.25},
{"i":0,"j":19,"v":0.3},{"i":1,"j":19,"v":0.34},{"i":2,"j":19,"v":0.36},{"i":3,"j":19,"v":0.35},{"i":4,"j":19,"v":0.33},{"i":5,"j":19,"v":0.29},{"i":6,"j":19,"v":0.27},{"i":7,"j":19,"v":0.26},{"i":8,"j":19,"v":0.25},{"i":9,"j":19,"v":0.24},
{"i":0,"j":20,"v":0.3},{"i":1,"j":20,"v":0.32},{"i":2,"j":20,"v":0.33},{"i":3,"j":20,"v":0.33},{"i":4,"j":20,"v":0.32},{"i":5,"j":20,"v":0.29},{"i":6,"j":20,"v":0.27},{"i":7,"j":20,"v":0.25},{"i":8,"j":20,"v":0.24},{"i":9,"j":20,"v":0.23},
{"i":0,"j":21,"v":0.3},{"i":1,"j":21,"v":0.32},{"i":2,"j":21,"v":0.33},{"i":3,"j":21,"v":0.33},{"i":4,"j":21,"v":0.31},{"i":5,"j":21,"v":0.28},{"i":6,"j":21,"v":0.26},{"i":7,"j":21,"v":0.25},{"i":8,"j":21,"v":0.23},{"i":9,"j":21,"v":0.22},
{"i":0,"j":22,"v":0.3},{"i":1,"j":22,"v":0.32},{"i":2,"j":22,"v":0.33},{"i":3,"j":22,"v":0.32},{"i":4,"j":22,"v":0.31},{"i":5,"j":22,"v":0.28},{"i":6,"j":22,"v":0.26},{"i":7,"j":22,"v":0.24},{"i":8,"j":22,"v":0.23},{"i":9,"j":22,"v":0.22},
{"i":0,"j":23,"v":0.3},{"i":1,"j":23,"v":0.32},{"i":2,"j":23,"v":0.32},{"i":3,"j":23,"v":0.32},{"i":4,"j":23,"v":0.3},{"i":5,"j":23,"v":0.28},{"i":6,"j":23,"v":0.26},{"i":7,"j":23,"v":0.24},{"i":8,"j":23,"v":0.22},{"i":9,"j":23,"v":0.21}
]
},
"hconcat":[
{"hconcat":[
{"vconcat":[
{"width":136,"height":173,
"title":{"text":"(a)","anchor":"start","frame":"bounds","font":"Liberation Serif","fontSize":25,"fontWeight":"normal","color":"#000","dx":-40,"dy":18},
"layer":[
{"data":{"name":"ha"},"mark":{"type":"rect","strokeWidth":1},"encoding":{"x":{"field":"i","type":"ordinal","axis":null,"scale":{"paddingInner":0,"paddingOuter":0}},"y":{"field":"j","type":"ordinal","axis":null,"scale":{"paddingInner":0,"paddingOuter":0}},
"color":{"field":"v","type":"quantitative","legend":null,"scale":{"type":"linear","interpolate":"rgb","domain":[-0.8,-0.65,-0.5,-0.3,-0.15,0,0.15,0.3,0.45,0.6,0.7,0.8],"range":["#1a0a6a","#1010b0","#0000ff","#6080ff","#b8ccff","#ffffff","#fddcd6","#f8b0a4","#f48070","#f64c56","#ff1c3c","#e6002c"]}},
"stroke":{"field":"v","type":"quantitative","legend":null,"scale":{"type":"linear","interpolate":"rgb","domain":[-0.8,-0.65,-0.5,-0.3,-0.15,0,0.15,0.3,0.45,0.6,0.7,0.8],"range":["#1a0a6a","#1010b0","#0000ff","#6080ff","#b8ccff","#ffffff","#fddcd6","#f8b0a4","#f48070","#f64c56","#ff1c3c","#e6002c"]}}}},
{"data":{"name":"ka"},"mark":{"type":"line","color":"#222","clip":true},"encoding":{"x":{"field":"x","type":"quantitative","scale":{"domain":[-2.46,2.26],"nice":false,"zero":false},"axis":null},"y":{"field":"y","type":"quantitative","scale":{"domain":[-7,-0.94],"nice":false,"zero":false},"axis":null},"detail":{"field":"c"},"order":{"field":"k"},"strokeWidth":{"field":"w","type":"quantitative","scale":null}}},
{"data":{"values":[{"x":0,"y":-0.94},{"x":0,"y":-7}]},"mark":{"type":"line","color":"#000","strokeWidth":1.5},"encoding":{"x":{"field":"x","type":"quantitative","scale":{"domain":[-2.46,2.26],"nice":false,"zero":false},"axis":{"orient":"bottom","values":[-2.25,0,2.25],"format":".2f","tickSize":7,"labelPadding":3,"title":"distance (m)","titlePadding":19}},"y":{"field":"y","type":"quantitative","scale":{"domain":[-7,-0.94],"nice":false,"zero":false},"axis":{"values":[-1,-2,-3,-4,-5,-6,-7],"format":".2f","tickSize":6,"labelPadding":4,"title":"Depth (m)","titlePadding":15}}}},
{"data":{"values":[{"x":0}]},"mark":{"type":"point","opacity":0},"encoding":{"x":{"field":"x","type":"quantitative","scale":{"domain":[-2.46,2.26],"nice":false,"zero":false},"axis":{"orient":"top","values":[-2.25,0,2.25],"labelExpr":"datum.value < -1 ? 'ISW' : (datum.value > 1 ? 'INE' : 'CTR')","labelFont":"Liberation Serif","labelFontWeight":"bold","labelFontSize":15.5,"labelColor":"#000","ticks":false,"tickSize":0,"domain":false,"labelPadding":2,"title":null,"labelOffset":{"condition":{"test":"datum.value < -1","value":8},"value":0}}}}}
],
"resolve":{"scale":{"x":"independent","y":"independent","color":"independent","stroke":"independent"}}
},
{"width":192,"height":24,"view":{"stroke":null},
"layer":[
{"data":{"name":"cb"},"mark":{"type":"rect","strokeWidth":1},
"encoding":{"x":{"field":"a","type":"quantitative","scale":{"domain":[-0.8,0.8],"range":[-54,192],"nice":false,"zero":false},"axis":{"values":[-0.8,-0.7,-0.6,-0.5,-0.4,-0.3,-0.2,-0.1,0,0.1,0.2,0.3,0.4,0.5,0.6,0.7,0.8],"tickSize":{"condition":{"test":"round(datum.value*10)%4==0","value":9},"value":5},"labelExpr":"round(datum.value*10)%4==0 ? format(datum.value,'.1f') : ''","labelFontSize":15,"labelPadding":6,"domain":false,"title":"difference of attenuation (Np/m)","titleFontSize":15.5,"titlePadding":17}},"x2":{"field":"b"},
"color":{"field":"m","type":"quantitative","legend":null,"scale":{"type":"linear","interpolate":"rgb","domain":[-0.8,-0.65,-0.5,-0.3,-0.15,0,0.15,0.3,0.45,0.6,0.7,0.8],"range":["#1a0a6a","#1010b0","#0000ff","#6080ff","#b8ccff","#ffffff","#fddcd6","#f8b0a4","#f48070","#f64c56","#ff1c3c","#e6002c"]}},
"stroke":{"field":"m","type":"quantitative","legend":null,"scale":{"type":"linear","interpolate":"rgb","domain":[-0.8,-0.65,-0.5,-0.3,-0.15,0,0.15,0.3,0.45,0.6,0.7,0.8],"range":["#1a0a6a","#1010b0","#0000ff","#6080ff","#b8ccff","#ffffff","#fddcd6","#f8b0a4","#f48070","#f64c56","#ff1c3c","#e6002c"]}}}},
{"data":{"values":[{"a":-0.8,"b":0.8}]},"mark":{"type":"rect","filled":false,"stroke":"#000","strokeWidth":1},"encoding":{"x":{"field":"a","type":"quantitative"},"x2":{"field":"b"}}}
]}
],"spacing":30,"resolve":{"scale":{"color":"independent","stroke":"independent"}}},
{"vconcat":[
{"width":135,"height":169,
"title":{"text":"(b)","anchor":"start","frame":"bounds","font":"Liberation Serif","fontSize":25,"fontWeight":"normal","color":"#000","dx":-54,"dy":18},
"layer":[
{"data":{"name":"hb"},"mark":{"type":"rect","strokeWidth":1},"encoding":{"x":{"field":"i","type":"ordinal","axis":null,"scale":{"paddingInner":0,"paddingOuter":0}},"y":{"field":"j","type":"ordinal","axis":null,"scale":{"paddingInner":0,"paddingOuter":0}},
"color":{"field":"v","type":"quantitative","legend":null,"scale":{"type":"linear","interpolate":"rgb","domain":[-0.8,-0.65,-0.5,-0.3,-0.15,0,0.15,0.3,0.45,0.6,0.7,0.8],"range":["#1a0a6a","#1010b0","#0000ff","#6080ff","#b8ccff","#ffffff","#fddcd6","#f8b0a4","#f48070","#f64c56","#ff1c3c","#e6002c"]}},
"stroke":{"field":"v","type":"quantitative","legend":null,"scale":{"type":"linear","interpolate":"rgb","domain":[-0.8,-0.65,-0.5,-0.3,-0.15,0,0.15,0.3,0.45,0.6,0.7,0.8],"range":["#1a0a6a","#1010b0","#0000ff","#6080ff","#b8ccff","#ffffff","#fddcd6","#f8b0a4","#f48070","#f64c56","#ff1c3c","#e6002c"]}}}},
{"data":{"name":"kb"},"mark":{"type":"line","color":"#222","clip":true},"encoding":{"x":{"field":"x","type":"quantitative","scale":{"domain":[-2.53,2.37],"nice":false,"zero":false},"axis":null},"y":{"field":"y","type":"quantitative","scale":{"domain":[-7.03,-0.89],"nice":false,"zero":false},"axis":null},"detail":{"field":"c"},"order":{"field":"k"},"strokeWidth":{"field":"w","type":"quantitative","scale":null}}},
{"data":{"values":[{"x":0,"y":-0.89},{"x":0,"y":-7.03}]},"mark":{"type":"line","color":"#000","strokeWidth":1.5},"encoding":{"x":{"field":"x","type":"quantitative","scale":{"domain":[-2.53,2.37],"nice":false,"zero":false},"axis":{"orient":"bottom","values":[-2.25,0,2.25],"format":".2f","tickSize":7,"labelPadding":3,"title":"distance (m)","titlePadding":19}},"y":{"field":"y","type":"quantitative","scale":{"domain":[-7.03,-0.89],"nice":false,"zero":false},"axis":{"values":[-1,-2,-3,-4,-5,-6,-7],"format":".2f","tickSize":6,"labelPadding":5,"title":"Depth (m)","titlePadding":14}}}},
{"data":{"values":[{"x":0}]},"mark":{"type":"point","opacity":0},"encoding":{"x":{"field":"x","type":"quantitative","scale":{"domain":[-2.53,2.37],"nice":false,"zero":false},"axis":{"orient":"top","values":[-2.25,0,2.25],"labelExpr":"datum.value < -1 ? 'ISW' : (datum.value > 1 ? 'INE' : 'CTR')","labelFont":"Liberation Serif","labelFontWeight":"bold","labelFontSize":15.5,"labelColor":"#000","ticks":false,"tickSize":0,"domain":false,"labelPadding":2,"title":null,"labelOffset":{"condition":{"test":"abs(datum.value) > 1","value":5},"value":0}}}}}
],
"resolve":{"scale":{"x":"independent","y":"independent","color":"independent","stroke":"independent"}}
},
{"width":191,"height":24,"view":{"stroke":null},
"layer":[
{"data":{"name":"cb"},"mark":{"type":"rect","strokeWidth":1},
"encoding":{"x":{"field":"a","type":"quantitative","scale":{"domain":[-0.8,0.8],"range":[-56,191],"nice":false,"zero":false},"axis":{"values":[-0.8,-0.7,-0.6,-0.5,-0.4,-0.3,-0.2,-0.1,0,0.1,0.2,0.3,0.4,0.5,0.6,0.7,0.8],"tickSize":{"condition":{"test":"round(datum.value*10)%4==0","value":9},"value":5},"labelExpr":"round(datum.value*10)%4==0 ? format(datum.value,'.1f') : ''","labelFontSize":15,"labelPadding":6,"domain":false,"title":"difference of attenuation (Np/m)","titleFontSize":15.5,"titlePadding":17}},"x2":{"field":"b"},
"color":{"field":"m","type":"quantitative","legend":null,"scale":{"type":"linear","interpolate":"rgb","domain":[-0.8,-0.65,-0.5,-0.3,-0.15,0,0.15,0.3,0.45,0.6,0.7,0.8],"range":["#1a0a6a","#1010b0","#0000ff","#6080ff","#b8ccff","#ffffff","#fddcd6","#f8b0a4","#f48070","#f64c56","#ff1c3c","#e6002c"]}},
"stroke":{"field":"m","type":"quantitative","legend":null,"scale":{"type":"linear","interpolate":"rgb","domain":[-0.8,-0.65,-0.5,-0.3,-0.15,0,0.15,0.3,0.45,0.6,0.7,0.8],"range":["#1a0a6a","#1010b0","#0000ff","#6080ff","#b8ccff","#ffffff","#fddcd6","#f8b0a4","#f48070","#f64c56","#ff1c3c","#e6002c"]}}}},
{"data":{"values":[{"a":-0.8,"b":0.8}]},"mark":{"type":"rect","filled":false,"stroke":"#000","strokeWidth":1},"encoding":{"x":{"field":"a","type":"quantitative"},"x2":{"field":"b"}}}
]}
],"spacing":35,"resolve":{"scale":{"color":"independent","stroke":"independent"}}}
],"spacing":-3,"resolve":{"scale":{"color":"independent","stroke":"independent"}}},
{"vconcat":[
{"width":127,"height":182,
"title":{"text":"(c)","anchor":"start","frame":"bounds","font":"Liberation Serif","fontSize":25,"fontWeight":"normal","color":"#000","dx":-28,"dy":18},
"layer":[
{"data":{"name":"hc"},"mark":{"type":"rect","strokeWidth":1},"encoding":{"x":{"field":"i","type":"ordinal","axis":null,"scale":{"paddingInner":0,"paddingOuter":0}},"y":{"field":"j","type":"ordinal","axis":null,"scale":{"paddingInner":0,"paddingOuter":0}},
"color":{"field":"v","type":"quantitative","legend":null,"scale":{"type":"linear","interpolate":"rgb","domain":[-0.8,-0.6,-0.4,-0.2,0,0.2,0.4,0.6,0.7,0.8],"range":["#0000ff","#4050ff","#8aa0ff","#c8d6ff","#ffffff","#fbd4cc","#f7a092","#f46262","#f83848","#ff0024"]}},
"stroke":{"field":"v","type":"quantitative","legend":null,"scale":{"type":"linear","interpolate":"rgb","domain":[-0.8,-0.6,-0.4,-0.2,0,0.2,0.4,0.6,0.7,0.8],"range":["#0000ff","#4050ff","#8aa0ff","#c8d6ff","#ffffff","#fbd4cc","#f7a092","#f46262","#f83848","#ff0024"]}}}},
{"data":{"name":"kc"},"mark":{"type":"line","color":"#222","clip":true},"encoding":{"x":{"field":"x","type":"quantitative","scale":{"domain":[-2.4,2.4],"nice":false,"zero":false},"axis":null},"y":{"field":"y","type":"quantitative","scale":{"domain":[-7.07,-0.86],"nice":false,"zero":false},"axis":null},"detail":{"field":"c"},"order":{"field":"k"},"strokeWidth":{"field":"w","type":"quantitative","scale":null}}},
{"data":{"values":[{"x":0.05,"y":-0.86},{"x":-0.05,"y":-7.07}]},"mark":{"type":"line","color":"#000","strokeWidth":1.5},"encoding":{"x":{"field":"x","type":"quantitative","scale":{"domain":[-2.4,2.4],"nice":false,"zero":false},"axis":{"orient":"bottom","values":[-2.25,0,2.25],"format":".2f","tickSize":7,"labelPadding":4,"labelFontSize":13.5,"title":"distance (m)","titleFontSize":13.5,"titlePadding":16}},"y":{"field":"y","type":"quantitative","scale":{"domain":[-7.07,-0.86],"nice":false,"zero":false},"axis":{"values":[-1,-2,-3,-4,-5,-6,-7],"format":".2f","tickSize":6,"labelPadding":4,"labelFontSize":13.5,"title":"depth (m)","titleFontSize":11.5,"titlePadding":22}}}},
{"data":{"values":[{"x":0}]},"mark":{"type":"point","opacity":0},"encoding":{"x":{"field":"x","type":"quantitative","scale":{"domain":[-2.4,2.4],"nice":false,"zero":false},"axis":{"orient":"top","values":[-2.25,0,2.25],"labelExpr":"datum.value < -1 ? 'ISW' : (datum.value > 1 ? 'INE' : 'CTR')","labelFont":"Liberation Serif","labelFontWeight":"bold","labelFontSize":15.5,"labelColor":"#000","ticks":false,"tickSize":0,"domain":false,"labelPadding":2,"title":null,"labelOffset":{"condition":{"test":"abs(datum.value) > 1","value":7},"value":0}}}}}
],
"resolve":{"scale":{"x":"independent","y":"independent","color":"independent","stroke":"independent"}}
},
{"width":198,"height":22,"view":{"stroke":null},
"layer":[
{"data":{"name":"cb"},"mark":{"type":"rect","strokeWidth":1},
"encoding":{"x":{"field":"a","type":"quantitative","scale":{"domain":[-0.8,0.8],"range":[-71,198],"nice":false,"zero":false},"axis":{"values":[-0.8,-0.7,-0.6,-0.5,-0.4,-0.3,-0.2,-0.1,0,0.1,0.2,0.3,0.4,0.5,0.6,0.7,0.8],"tickSize":{"condition":{"test":"round(datum.value*10)%4==0","value":9},"value":5},"labelExpr":"round(datum.value*10)%4==0 ? format(datum.value,'.1f') : ''","labelFontSize":13.5,"labelPadding":8,"domain":false,"title":"attenuation difference (Np/m)","titleFontSize":13.8,"titlePadding":17}},"x2":{"field":"b"},
"color":{"field":"m","type":"quantitative","legend":null,"scale":{"type":"linear","interpolate":"rgb","domain":[-0.8,-0.6,-0.4,-0.2,0,0.2,0.4,0.6,0.7,0.8],"range":["#0000ff","#4050ff","#8aa0ff","#c8d6ff","#ffffff","#fbd4cc","#f7a092","#f46262","#f83848","#ff0024"]}},
"stroke":{"field":"m","type":"quantitative","legend":null,"scale":{"type":"linear","interpolate":"rgb","domain":[-0.8,-0.6,-0.4,-0.2,0,0.2,0.4,0.6,0.7,0.8],"range":["#0000ff","#4050ff","#8aa0ff","#c8d6ff","#ffffff","#fbd4cc","#f7a092","#f46262","#f83848","#ff0024"]}}}},
{"data":{"values":[{"a":-0.8,"b":0.8}]},"mark":{"type":"rect","filled":false,"stroke":"#000","strokeWidth":1},"encoding":{"x":{"field":"a","type":"quantitative"},"x2":{"field":"b"}}}
]}
],"spacing":26,"resolve":{"scale":{"color":"independent","stroke":"independent"}}}
],
"spacing":56,
"resolve":{"scale":{"color":"independent","stroke":"independent"}},
"config":{
"view":{"stroke":"#444","strokeWidth":1},
"axis":{"labelFont":"Liberation Mono","labelFontSize":14.5,"labelColor":"#222","titleFont":"Liberation Mono","titleFontSize":14.5,"titleFontWeight":"normal","titleColor":"#222","domainColor":"#000","tickColor":"#000","grid":false,"labelFlush":false,"labelOverlap":false},
"locale":{"number":{"decimal":".","thousands":",","grouping":[3],"currency":["$",""],"minus":"-"}}
}
}
